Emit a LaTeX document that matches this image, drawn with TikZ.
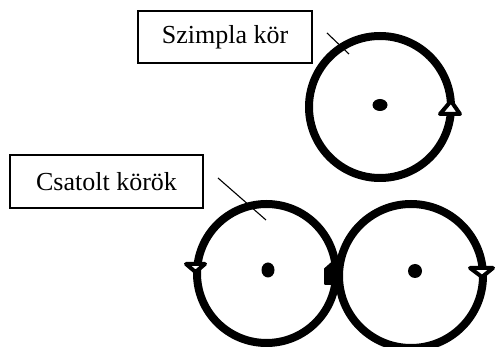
\documentclass[tikz,border=0pt]{standalone}
\usepackage{fontspec}
\setmainfont{Liberation Serif}
\begin{document}
\begin{tikzpicture}[x=1pt,y=-1pt,
  ring/.style={draw=black,line width=8pt},
  label box/.style={draw=black,line width=1.5pt,inner sep=0pt,font=\fontsize{26}{30}\selectfont},
  leader/.style={draw=black,line width=1.1pt},
  hollowtip/.style={draw=black,fill=white,line width=4pt,line join=round},
  solidtip/.style={draw=black,fill=black,line width=2pt,line join=round},
  dotc/.style={fill=black}]
\useasboundingbox (0,0) rectangle (496,347);
% labels
\node[label box,minimum width=174pt,minimum height=52pt] (szbox) at (225,37) {Szimpla kör};
\node[label box,minimum width=193pt,minimum height=53pt] (csbox) at (106.5,181.5) {Csatolt körök};
% circles
\coordinate (c1) at (380,107);
\coordinate (c2) at (266.5,273.5);
\coordinate (c3) at (411,276);
\draw[ring] (c1) circle[radius=71];
\draw[ring] (c2) circle[radius=69.5];
\draw[ring] (c3) circle[radius=72];
% centre dots
\fill[dotc] (380,105) ellipse[x radius=7.5,y radius=6];
\fill[dotc] (268,270) ellipse[x radius=6.5,y radius=7.5];
\fill[dotc] (415,271) circle[radius=7];
% leader lines
\coordinate (l1a) at (327,33);
\coordinate (l1b) at (349,54);
\coordinate (l2a) at (218,178);
\coordinate (l2b) at (266,220);
\draw[leader] (l1a) -- (l1b);
\draw[leader] (l2a) -- (l2b);
% arrow tips
\draw[hollowtip] (451,101) -- (440,114) -- (460,114) -- cycle;
\draw[hollowtip] (186,264) -- (205,264) -- (195.5,272) -- cycle;
\draw[hollowtip] (470,268) -- (493,268) -- (482,277) -- cycle;
\draw[solidtip] (334,261) -- (325,269) -- (325,284) -- (337,284) -- cycle;
\end{tikzpicture}
\end{document}
